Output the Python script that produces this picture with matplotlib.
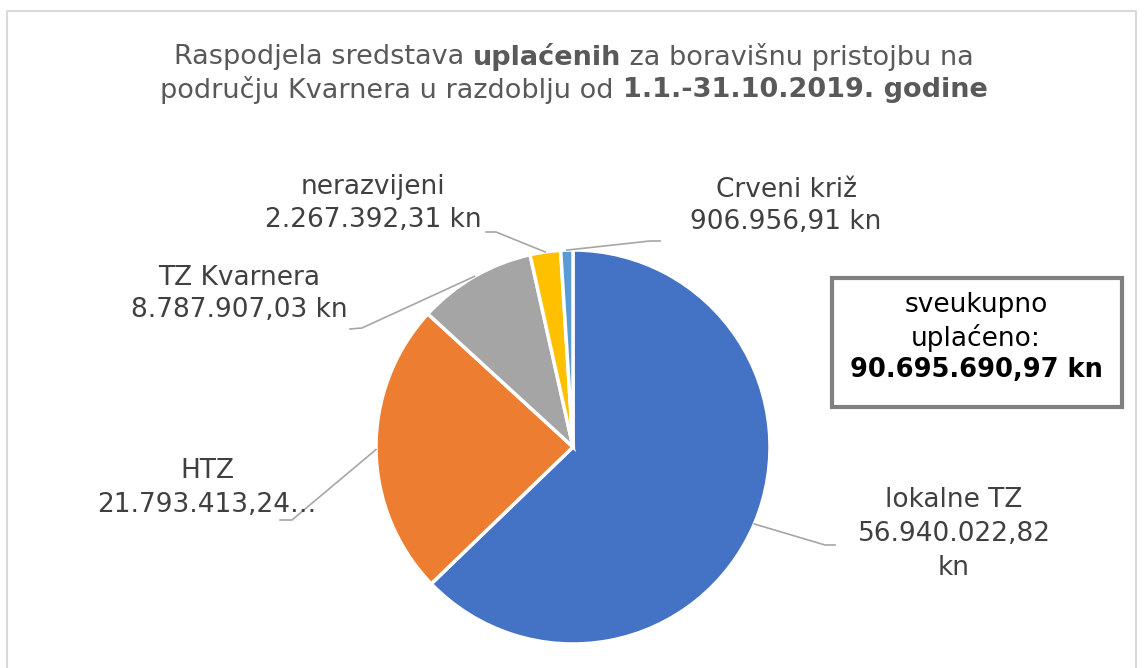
import numpy as np
import matplotlib.pyplot as plt
from matplotlib.patches import Rectangle

# data
labels = ['lokalne TZ', 'HTZ', 'TZ Kvarnera', 'nerazvijeni', 'Crveni križ']
values = [56940022.82, 21793413.24, 8787907.03, 2267392.31, 906956.91]
value_texts = [['56.940.022,82', 'kn'], ['21.793.413,24…'], ['8.787.907,03 kn'],
               ['2.267.392,31 kn'], ['906.956,91 kn']]
colors = ['#4472C4', '#ED7D31', '#A5A5A5', '#FFC000', '#5B9BD5']
total_text = '90.695.690,97 kn'
title_parts = [
    [('Raspodjela sredstava ', 'normal'), ('uplaćenih', 'bold'),
     (' za boravišnu pristojbu na', 'normal')],
    [('području Kvarnera u razdoblju od ', 'normal'),
     ('1.1.-31.10.2019. godine', 'bold')],
]

W, H = 1144, 668
fig = plt.figure(figsize=(W / 100, H / 100), dpi=100)
ax = fig.add_axes([0, 0, 1, 1])

def Y(y):
    return H - y

# outer chart frame
ax.plot([7, 7, 1136, 1136], [Y(668), Y(11), Y(11), Y(668)], color='#D9D9D9', lw=1.5)

# pie
cx, cy, r = 573, Y(447), 197
ax.pie(values, colors=colors, startangle=90, counterclock=False,
       center=(cx, cy), radius=r, frame=True,
       wedgeprops=dict(edgecolor='white', linewidth=2.5))
ax.set_xlim(0, W)
ax.set_ylim(0, H)
ax.set_aspect('equal')
ax.axis('off')

# title built from regular/bold pieces
renderer = fig.canvas.get_renderer()
for line, yc in zip(title_parts, [57, 90]):
    objs = [ax.text(0, Y(yc), s, fontsize=19.5, fontweight=w, color='#595959',
                    ha='left', va='center') for s, w in line]
    widths = [o.get_window_extent(renderer=renderer).width for o in objs]
    x = 574 - sum(widths) / 2
    for o, wd in zip(objs, widths):
        o.set_x(x)
        x += wd

# label positions (line centres) and leader line elbows, pixel coords
text_x = [954, 207, 239, 373, 786]
text_y = [[500, 534, 568], [471, 505], [278, 310], [187, 220], [190, 222]]
elbow = [[(825, 545), (835, 545)],
         [(292, 520), (280, 520)],
         [(362, 328), (350, 329)],
         [(496, 232), (486, 232)],
         [(650, 241), (660, 241)]]

fracs = np.array(values) / sum(values)
start = 90.0
lcol = '#404040'
for i, lab in enumerate(labels):
    ang = start - 360 * fracs[i] / 2
    start -= 360 * fracs[i]
    a = np.deg2rad(ang)
    px, py = cx + r * np.cos(a), cy + r * np.sin(a)
    xs = [px] + [e[0] for e in elbow[i]]
    ys = [py] + [Y(e[1]) for e in elbow[i]]
    ax.plot(xs, ys, color='#A6A6A6', lw=1.2)
    for s, ty in zip([lab] + value_texts[i], text_y[i]):
        ax.text(text_x[i], Y(ty), s, ha='center', va='center', fontsize=19, color=lcol)

# total box
ax.add_patch(Rectangle((832, Y(407)), 290, 129, facecolor='white',
                       edgecolor='#808080', lw=3))
ax.text(976, Y(305), 'sveukupno', ha='center', va='center', fontsize=19, color='black')
ax.text(976, Y(338), 'uplaćeno:', ha='center', va='center', fontsize=19, color='black')
ax.text(976, Y(370), total_text, ha='center', va='center',
        fontsize=18.5, color='black', fontweight='bold')

fig.savefig('out.png', dpi=100)
